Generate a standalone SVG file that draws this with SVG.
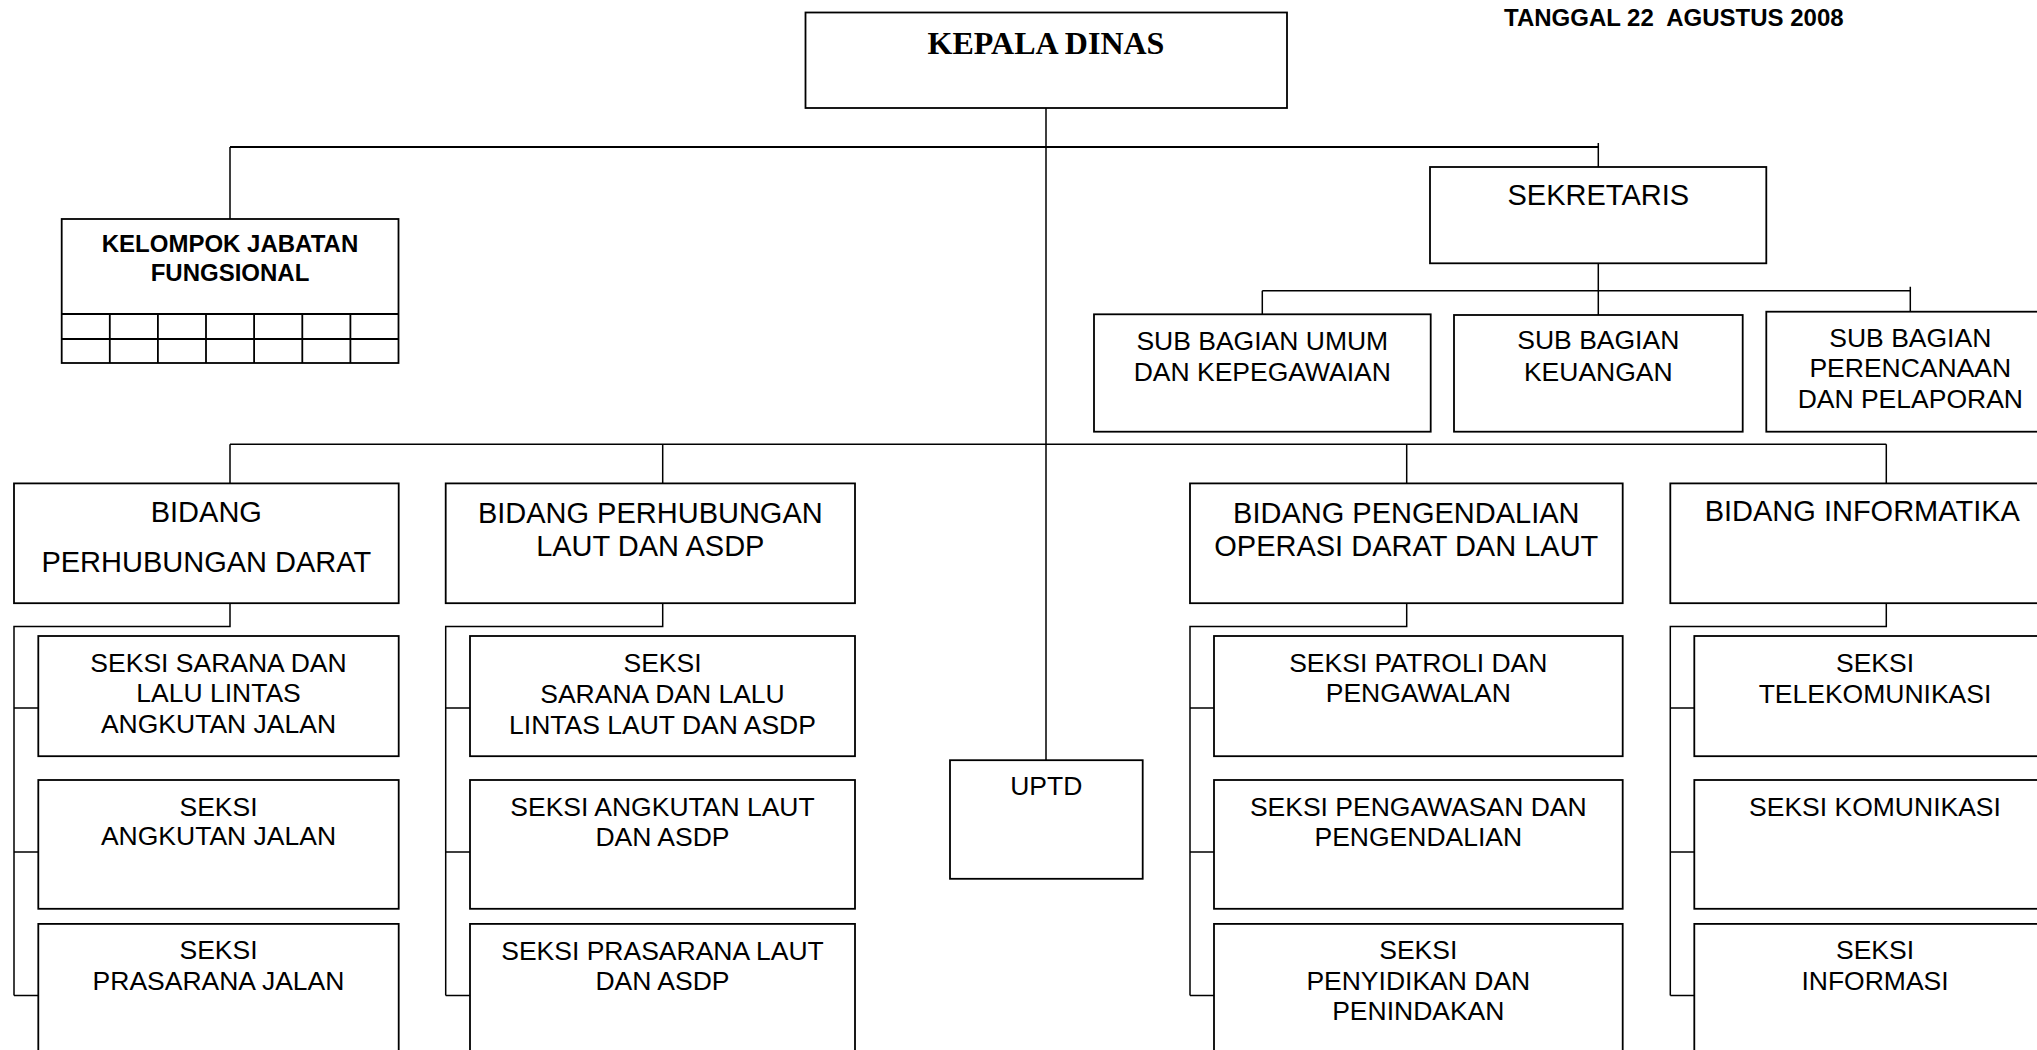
<svg xmlns="http://www.w3.org/2000/svg" width="2037" height="1050" viewBox="0 0 2037 1050">
<style>
rect.box{fill:#fff;stroke:#000;stroke-width:1.8}
.ln{fill:none;stroke:#000;stroke-width:1.5}
.thick{fill:none;stroke:#000;stroke-width:2.2}
text{font-family:"Liberation Sans",Arial,sans-serif;fill:#000;text-anchor:middle}
.bd{font-size:29px}
.sk{font-size:26.5px}
.sb{font-size:26.5px}
.kg{font-family:"Liberation Serif","Times New Roman",serif;font-weight:bold;font-size:32px}
.kf{font-weight:bold;font-size:24px}
.tg{font-weight:bold;font-size:24px;text-anchor:start;white-space:pre}
</style>
<rect width="2037" height="1050" fill="#fff"/>
<g id="connectors">
<path class="thick" d="M230 147H1598.3"/>
<path class="ln" d="M230 147V219 M1598.3 143V167 M1046 108V760.2"/>
<path class="ln" d="M1598.3 263.3V315 M1262.3 290.7H1910.3 M1262.3 290.7V314.3 M1910.3 286.7V311.7"/>
<path class="ln" d="M230 444.2H1886.3 M230 444.2V483.4 M662.7 444.2V483.4 M1406.7 444.2V483.4 M1886.3 444.2V483.4"/>
<path class="ln" d="M230 603.2V626.5H14V995.4 M14 708H38.3 M14 851.9H38.3 M14 995.4H38.3"/>
<path class="ln" d="M662.7 603.2V626.5H445.7V995.4 M445.7 708H470 M445.7 851.9H470 M445.7 995.4H470"/>
<path class="ln" d="M1406.7 603.2V626.5H1190V995.4 M1190 708H1214 M1190 851.9H1214 M1190 995.4H1214"/>
<path class="ln" d="M1886.3 603.2V626.5H1670.3V995.4 M1670.3 708H1694.3 M1670.3 851.9H1694.3 M1670.3 995.4H1694.3"/>
</g>
<g id="tanggal"><text class="tg" x="1504" y="25.5" xml:space="preserve">TANGGAL 22  AGUSTUS 2008</text></g>
<g id="kepala-dinas">
<rect class="box" x="805.5" y="12.5" width="481.5" height="95.5"/>
<text class="kg" x="1046" y="54">KEPALA DINAS</text>
</g>
<g id="kelompok-jabatan-fungsional">
<rect class="box" x="61.7" y="219" width="336.8" height="144"/>
<path class="ln" d="M61.7 314H398.5 M61.7 339H398.5 M109.8 314V363 M157.9 314V363 M206 314V363 M254.1 314V363 M302.3 314V363 M350.4 314V363" style="stroke-width:1.8"/>
<text class="kf" x="230" y="252">KELOMPOK JABATAN</text>
<text class="kf" x="230" y="280.7">FUNGSIONAL</text>
</g>
<g id="sekretaris">
<rect class="box" x="1430" y="167" width="336.3" height="96.3"/>
<text class="bd" x="1598.3" y="205">SEKRETARIS</text>
</g>
<g id="sub-bagian-umum">
<rect class="box" x="1094" y="314.3" width="336.7" height="117.4"/>
<text class="sb" x="1262.3" y="350">SUB BAGIAN UMUM</text>
<text class="sb" x="1262.3" y="380.7">DAN KEPEGAWAIAN</text>
</g>
<g id="sub-bagian-keuangan">
<rect class="box" x="1454" y="315" width="288.7" height="116.7"/>
<text class="sb" x="1598.3" y="349.3">SUB BAGIAN</text>
<text class="sb" x="1598.3" y="381">KEUANGAN</text>
</g>
<g id="sub-bagian-perencanaan">
<rect class="box" x="1766.3" y="311.7" width="288" height="120"/>
<text class="sb" x="1910.3" y="346.7">SUB BAGIAN</text>
<text class="sb" x="1910.3" y="376.7">PERENCANAAN</text>
<text class="sb" x="1910.3" y="407.7">DAN PELAPORAN</text>
</g>
<g id="bidang-perhubungan-darat">
<rect class="box" x="14" y="483.4" width="384.7" height="119.8"/>
<text class="bd" x="206.3" y="522.1">BIDANG</text>
<text class="bd" x="206.3" y="572.3">PERHUBUNGAN DARAT</text>
</g>
<g id="bidang-perhubungan-laut">
<rect class="box" x="445.7" y="483.4" width="409.3" height="119.8"/>
<text class="bd" x="650.3" y="522.9">BIDANG PERHUBUNGAN</text>
<text class="bd" x="650.3" y="555.7">LAUT DAN ASDP</text>
</g>
<g id="bidang-pengendalian">
<rect class="box" x="1190" y="483.4" width="432.7" height="119.8"/>
<text class="bd" x="1406.3" y="522.9">BIDANG PENGENDALIAN</text>
<text class="bd" x="1406.3" y="555.7">OPERASI DARAT DAN LAUT</text>
</g>
<g id="bidang-informatika">
<rect class="box" x="1670.3" y="483.4" width="384" height="119.8"/>
<text class="bd" x="1862.3" y="521">BIDANG INFORMATIKA</text>
</g>
<g id="uptd">
<rect class="box" x="950" y="760.2" width="192.7" height="118.6"/>
<text class="sk" x="1046.3" y="795">UPTD</text>
</g>
<g id="seksi-sarana-lalu-lintas-angkutan-jalan">
<rect class="box" x="38.3" y="636" width="360.4" height="120.2"/>
<text class="sk" x="218.5" y="672">SEKSI SARANA DAN</text>
<text class="sk" x="218.5" y="702">LALU LINTAS</text>
<text class="sk" x="218.5" y="732.5">ANGKUTAN JALAN</text>
</g>
<g id="seksi-angkutan-jalan">
<rect class="box" x="38.3" y="780" width="360.4" height="128.8"/>
<text class="sk" x="218.5" y="815.5">SEKSI</text>
<text class="sk" x="218.5" y="845.2">ANGKUTAN JALAN</text>
</g>
<g id="seksi-prasarana-jalan">
<rect class="box" x="38.3" y="923.9" width="360.4" height="140"/>
<text class="sk" x="218.5" y="959">SEKSI</text>
<text class="sk" x="218.5" y="989.5">PRASARANA JALAN</text>
</g>
<g id="seksi-sarana-lalu-lintas-laut">
<rect class="box" x="470" y="636" width="385" height="120.2"/>
<text class="sk" x="662.5" y="672">SEKSI</text>
<text class="sk" x="662.5" y="702.8">SARANA DAN LALU</text>
<text class="sk" x="662.5" y="733.7">LINTAS LAUT DAN ASDP</text>
</g>
<g id="seksi-angkutan-laut">
<rect class="box" x="470" y="780" width="385" height="128.8"/>
<text class="sk" x="662.5" y="815.5">SEKSI ANGKUTAN LAUT</text>
<text class="sk" x="662.5" y="846">DAN ASDP</text>
</g>
<g id="seksi-prasarana-laut">
<rect class="box" x="470" y="923.9" width="385" height="140"/>
<text class="sk" x="662.5" y="959.9">SEKSI PRASARANA LAUT</text>
<text class="sk" x="662.5" y="990.3">DAN ASDP</text>
</g>
<g id="seksi-patroli">
<rect class="box" x="1214" y="636" width="408.7" height="120.2"/>
<text class="sk" x="1418.3" y="672">SEKSI PATROLI DAN</text>
<text class="sk" x="1418.3" y="702">PENGAWALAN</text>
</g>
<g id="seksi-pengawasan">
<rect class="box" x="1214" y="780" width="408.7" height="128.8"/>
<text class="sk" x="1418.3" y="815.5">SEKSI PENGAWASAN DAN</text>
<text class="sk" x="1418.3" y="846">PENGENDALIAN</text>
</g>
<g id="seksi-penyidikan">
<rect class="box" x="1214" y="923.9" width="408.7" height="140"/>
<text class="sk" x="1418.3" y="959">SEKSI</text>
<text class="sk" x="1418.3" y="989.5">PENYIDIKAN DAN</text>
<text class="sk" x="1418.3" y="1020.4">PENINDAKAN</text>
</g>
<g id="seksi-telekomunikasi">
<rect class="box" x="1694.3" y="636" width="361" height="120.2"/>
<text class="sk" x="1875" y="672">SEKSI</text>
<text class="sk" x="1875" y="702.8">TELEKOMUNIKASI</text>
</g>
<g id="seksi-komunikasi">
<rect class="box" x="1694.3" y="780" width="361" height="128.8"/>
<text class="sk" x="1875" y="815.5">SEKSI KOMUNIKASI</text>
</g>
<g id="seksi-informasi">
<rect class="box" x="1694.3" y="923.9" width="361" height="140"/>
<text class="sk" x="1875" y="959">SEKSI</text>
<text class="sk" x="1875" y="989.5">INFORMASI</text>
</g>
</svg>
